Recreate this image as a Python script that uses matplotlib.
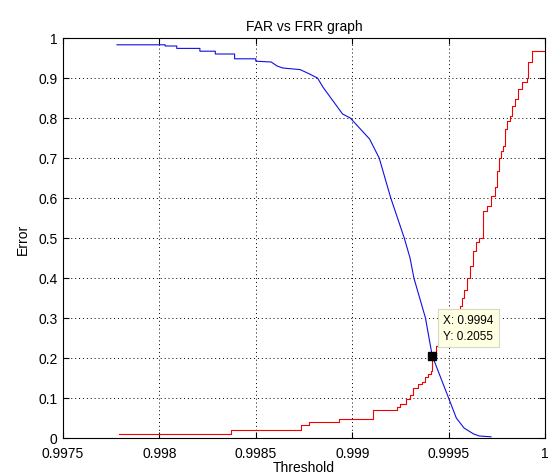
import matplotlib
matplotlib.use("Agg")
import matplotlib.pyplot as plt

plt.rcParams['font.family'] = ['Liberation Sans', 'DejaVu Sans']

# FRR (blue) curve
frr_x = [0.99778, 0.99803, 0.99803, 0.99809, 0.99809, 0.99821, 0.99821, 0.99829,
         0.99829, 0.99839, 0.99839, 0.99850, 0.99850, 0.99858, 0.99861, 0.99864,
         0.99873, 0.99877, 0.99882, 0.99885, 0.99890, 0.99895, 0.99899, 0.99909,
         0.99914, 0.99920, 0.99927, 0.99930, 0.99932, 0.99938, 0.999415, 0.99950,
         0.99954, 0.99958, 0.99963, 0.99966, 0.99972]
frr_y = [0.983, 0.983, 0.980, 0.980, 0.974, 0.974, 0.967, 0.967,
         0.960, 0.960, 0.948, 0.948, 0.942, 0.940, 0.930, 0.925,
         0.921, 0.912, 0.900, 0.876, 0.843, 0.810, 0.800, 0.7475,
         0.700, 0.600, 0.500, 0.450, 0.400, 0.300, 0.2055, 0.100,
         0.050, 0.025, 0.010, 0.005, 0.003]

# FAR (red) curve, staircase
far_x = [0.99779, 0.998371, 0.998734, 0.998776, 0.998932, 0.999108, 0.999232,
         0.999248, 0.999277, 0.999300, 0.999315, 0.999341, 0.999360, 0.999378,
         0.999393, 0.999407, 0.999412, 0.999435, 0.999461, 0.999492, 0.999518,
         0.999544, 0.999559, 0.999569, 0.999580, 0.999595, 0.999611, 0.999627,
         0.999642, 0.999659, 0.999678, 0.999699, 0.999720, 0.999741, 0.999751,
         0.999761, 0.999771, 0.999782, 0.999792, 0.999803, 0.999818, 0.999829,
         0.999844, 0.999860, 0.999881, 0.999905, 0.999913, 0.999931, 1.0]
far_y = [0.010, 0.020, 0.033, 0.039, 0.0475, 0.070, 0.077,
         0.085, 0.0975, 0.1075, 0.125, 0.135, 0.140, 0.1525,
         0.160, 0.168, 0.2055, 0.230, 0.250, 0.270, 0.290,
         0.310, 0.330, 0.350, 0.370, 0.400, 0.430, 0.468,
         0.490, 0.500, 0.568, 0.580, 0.606, 0.627, 0.668,
         0.700, 0.718, 0.730, 0.7725, 0.793, 0.806, 0.830,
         0.8475, 0.8725, 0.890, 0.900, 0.940, 0.968, 0.968]

eer_x = 0.999415
eer_y = 0.2055
eer_label = "X: 0.9994\nY: 0.2055"

xticks = [0.9975, 0.998, 0.9985, 0.999, 0.9995, 1.0]
xtick_labels = ["0.9975", "0.998", "0.9985", "0.999", "0.9995", "1"]
yticks = [0, 0.1, 0.2, 0.3, 0.4, 0.5, 0.6, 0.7, 0.8, 0.9, 1.0]
ytick_labels = ["0", "0.1", "0.2", "0.3", "0.4", "0.5", "0.6", "0.7", "0.8", "0.9", "1"]

fig = plt.figure(figsize=(5.53, 4.77), dpi=100)
ax = fig.add_axes([63/553, 38/477, 482/553, 400/477])

ax.plot(frr_x, frr_y, color='#1010e0', lw=0.8)
ax.plot(far_x, far_y, color='#f00000', lw=0.8, drawstyle='steps-post')
ax.plot([eer_x], [eer_y], marker='s', color='black', ms=6, zorder=5)

ax.annotate(eer_label, xy=(eer_x, eer_y), xycoords='data',
            xytext=(8, 20), textcoords='offset points',
            ha='left', va='center', fontsize=8.5, linespacing=1.35,
            bbox=dict(boxstyle='square,pad=0.45', fc='#ffffe1', ec='#d8d8c8', lw=0.8),
            zorder=6)

ax.set_xlim(0.9975, 1.0)
ax.set_ylim(0, 1)
ax.set_xticks(xticks)
ax.set_xticklabels(xtick_labels)
ax.set_yticks(yticks)
ax.set_yticklabels(ytick_labels)
ax.tick_params(direction='in', length=4, width=0.8, labelsize=10,
               top=True, right=True)
ax.tick_params(axis='x', pad=6)
ax.tick_params(axis='y', pad=4)
ax.grid(True, color='black', linestyle=(0, (1, 3)), lw=0.7)
for s in ax.spines.values():
    s.set_linewidth(0.8)

ax.set_title("FAR vs FRR graph", fontsize=10, pad=6)
ax.set_xlabel("Threshold", fontsize=10, labelpad=0)
ax.set_ylabel("Error", fontsize=10, labelpad=6)

fig.savefig("out.png", dpi=100)
